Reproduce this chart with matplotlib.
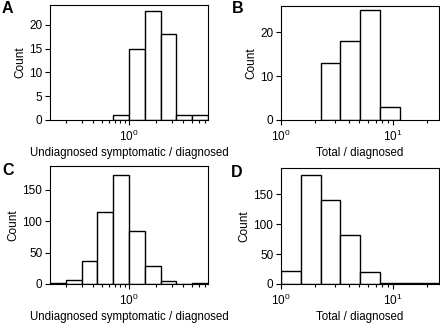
import numpy as np
import matplotlib
matplotlib.use("Agg")
import matplotlib.pyplot as plt
from matplotlib.ticker import MultipleLocator, NullFormatter

plt.rcParams['font.family'] = ['Liberation Sans', 'DejaVu Sans']
plt.rcParams['font.size'] = 8

# bins are powers of 1.5
k_a = np.arange(-1, 6)          # 0.667 .. 7.59
counts_a = [1, 15, 23, 18, 1, 1]
k_b = np.arange(2, 7)           # 2.25 .. 11.4
counts_b = [13, 18, 25, 3]
k_c = np.arange(-5, 6)          # 0.13 .. 7.59
counts_c = [1, 6, 37, 115, 174, 85, 28, 4, 0, 1]
k_d = np.arange(0, 9)           # 1 .. 25.6
counts_d = [22, 183, 140, 82, 20, 2, 1, 1]

lbl_sym = "Undiagnosed symptomatic / diagnosed"
lbl_tot = "Total / diagnosed"

W, H = 440, 324
fig = plt.figure(figsize=(W / 100, H / 100), dpi=100)

def box(l, r, t, b):
    return [l / W, 1 - b / H, (r - l) / W, (b - t) / H]

panels = [
    ("A", box(50, 208, 5, 120), k_a, counts_a, (-5, 5), 24.2, 5, lbl_sym, (2, 1)),
    ("B", box(281, 439, 6, 120), k_b, counts_b, (0, 8), 26.0, 10, lbl_tot, (232, 1)),
    ("C", box(50, 208, 166, 284), k_c, counts_c, (-5, 5), 188, 50, lbl_sym, (2, 163)),
    ("D", box(281, 439, 168, 284), k_d, counts_d, (0, 8), 194, 50, lbl_tot, (231, 165)),
]

for letter, rect, k, counts, xl, ytop, ystep, xlabel, lpos in panels:
    ax = fig.add_axes(rect)
    edges = 1.5 ** k.astype(float)
    ax.bar(edges[:-1], counts, width=np.diff(edges), align='edge',
           facecolor='white', edgecolor='black', linewidth=1.0)
    ax.set_xscale('log')
    ax.set_xlim(1.5 ** xl[0], 1.5 ** xl[1])
    ax.set_ylim(0, ytop)
    ax.yaxis.set_major_locator(MultipleLocator(ystep))
    ax.xaxis.set_minor_formatter(NullFormatter())
    ax.tick_params(direction='out', length=3.5, width=0.8, labelsize=8.5, pad=2)
    ax.tick_params(axis='x', pad=3)
    ax.tick_params(which='minor', direction='out', length=2, width=0.8)
    ax.set_ylabel("Count", fontsize=8.5, labelpad=2)
    ax.set_xlabel(xlabel, fontsize=8.3, labelpad=2)
    for s in ax.spines.values():
        s.set_linewidth(0.8)
    fig.text(lpos[0] / W, 1 - lpos[1] / H, letter, fontsize=11.5,
             fontweight='bold', va='top', ha='left')

fig.savefig("out.png", dpi=100)
